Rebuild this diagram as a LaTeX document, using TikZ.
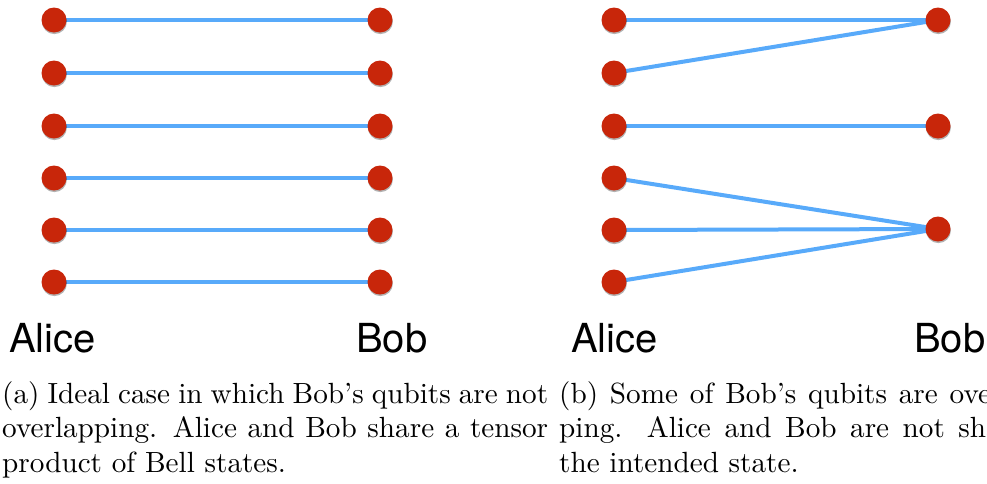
\documentclass[tikz,border=0pt]{standalone}
\usepackage{fontspec}
\newfontfamily\labfont{TeX Gyre Heros}
\newfontfamily\capfont{lmroman10-regular.otf}
\usetikzlibrary{backgrounds,shadows}
\definecolor{dotred}{RGB}{200,38,10}
\definecolor{linkblue}{RGB}{88,170,250}
\begin{document}
\begin{tikzpicture}[x=1pt,y=-1pt,
  qubit/.style={circle,fill=dotred,minimum size=25pt,inner sep=0pt,
    drop shadow={shadow xshift=0.4pt,shadow yshift=-1.6pt,opacity=0.3,fill=black}},
  link/.style={draw=linkblue,line width=4pt},
  party/.style={font=\labfont\fontsize{40}{48}\selectfont,inner sep=0pt,anchor=base west},
  captext/.style={font=\capfont\fontsize{29.2}{34.5}\selectfont,inner sep=0pt,anchor=base west}]
\useasboundingbox (0,0) rectangle (987,483);
\clip (0,0) rectangle (987,483);
% panel (a)
\foreach \i/\y in {1/20,2/73,3/126,4/178,5/230,6/282}{
  \node[qubit] (la\i) at (54,\y) {};
  \node[qubit] (lb\i) at (380,\y) {};
}
\begin{scope}[on background layer]
\foreach \i in {1,...,6}{\draw[link] (la\i.center) -- (lb\i.center);}
\end{scope}
% panel (b)
\foreach \i/\y in {1/20,2/73,3/126,4/178,5/230,6/282}{
  \node[qubit] (ra\i) at (614,\y) {};
}
\node[qubit] (rb1) at (938,20) {};
\node[qubit] (rb2) at (938,126) {};
\node[qubit] (rb3) at (938,229) {};
\begin{scope}[on background layer]
\draw[link] (ra1.center) -- (rb1.center);
\draw[link] (ra2.center) -- (rb1.center);
\draw[link] (ra3.center) -- (rb2.center);
\draw[link] (ra4.center) -- (rb3.center);
\draw[link] (ra5.center) -- (rb3.center);
\draw[link] (ra6.center) -- (rb3.center);
\end{scope}
% labels
\node[party] (alice1) at (9,352) {Alice};
\node[party] (bob1) at (356,352) {Bob};
\node[party] (alice2) at (571,352) {Alice};
\node[party] (bob2) at (914,352) {Bob};
% captions
\node[captext] (ca1) at (2,403) {\makebox[546pt][s]{(a) Ideal case in which Bob’s qubits are not}};
\node[captext] (ca2) at (2,437.5) {\makebox[546pt][s]{overlapping.  Alice and Bob share a tensor}};
\node[captext] (ca3) at (2,472) {product of Bell states.};
\node[captext] (cb1) at (559,403) {\makebox[492pt][s]{(b) Some of Bob’s qubits are overlap-}};
\node[captext] (cb2) at (559,437.5) {\makebox[492pt][s]{ping.  Alice and Bob are not sharing}};
\node[captext] (cb3) at (559,472) {the intended state.};
\end{tikzpicture}
\end{document}
